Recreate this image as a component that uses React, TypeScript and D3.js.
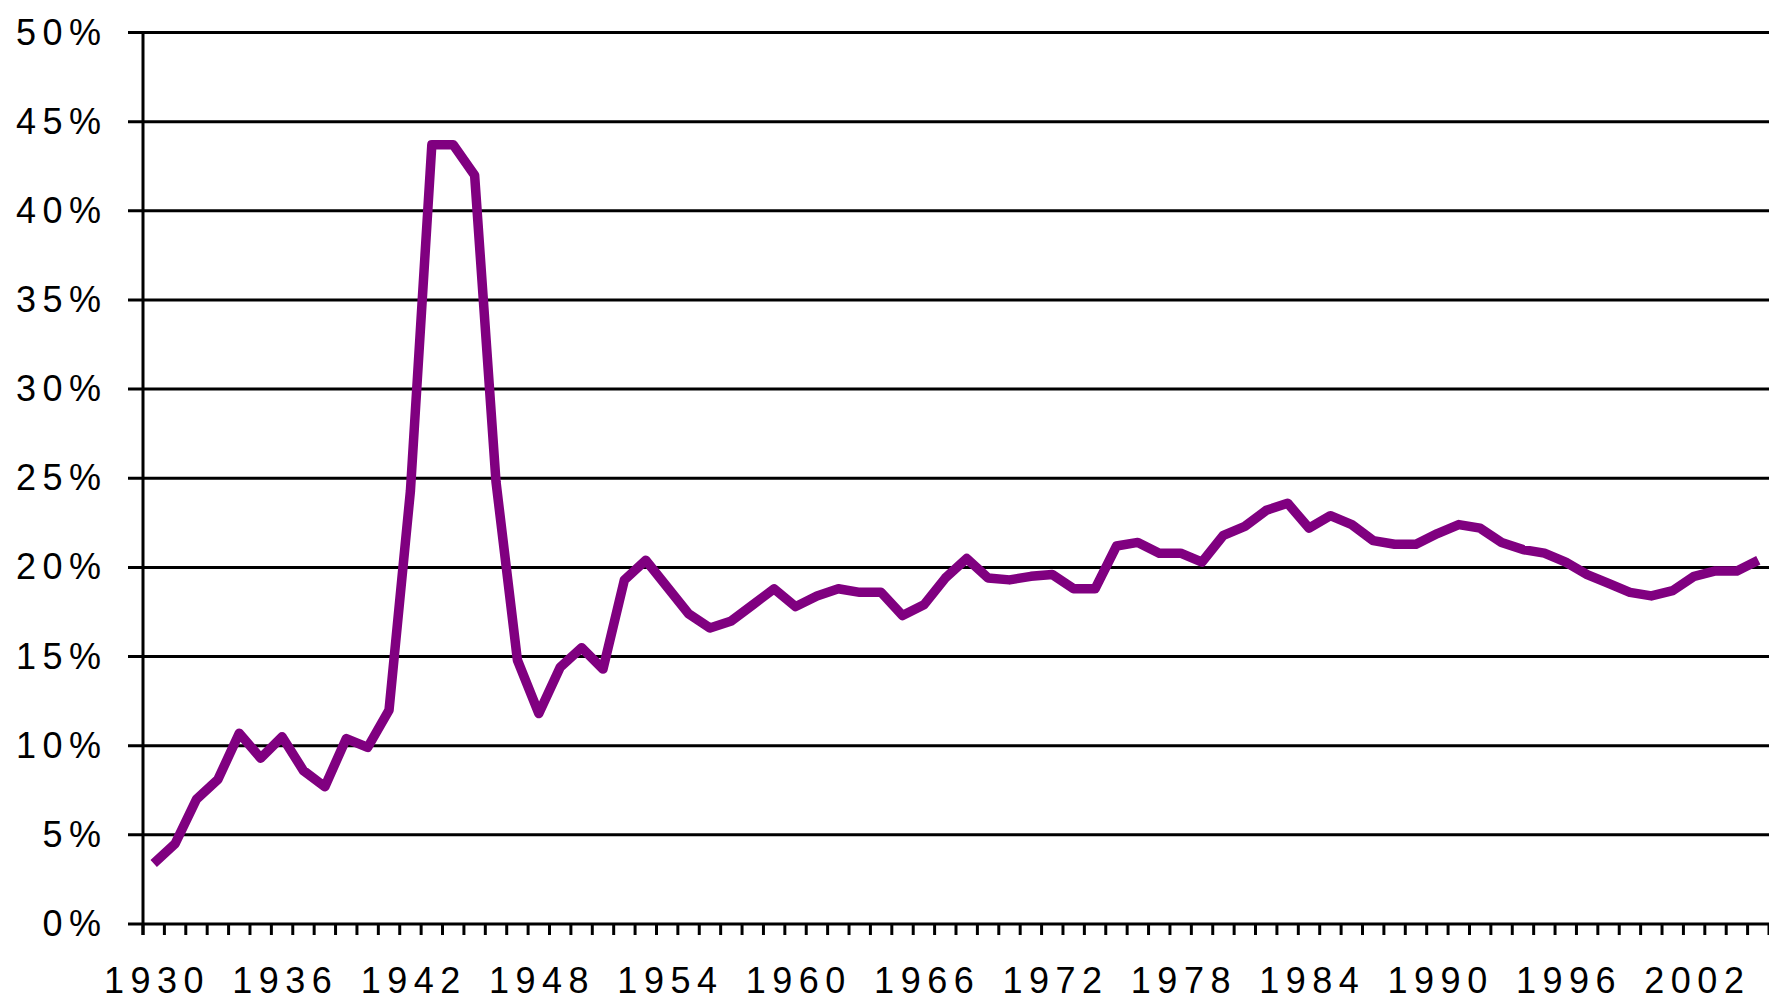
import React from "react";
import * as d3 from "d3";

const years: number[] = d3.range(1930, 2006);
const values: number[] = [
  3.4, 4.5, 7.0, 8.1, 10.7, 9.3, 10.5, 8.6, 7.7, 10.4,
  9.9, 12.0, 24.3, 43.7, 43.7, 42.0, 24.8, 14.8, 11.8, 14.4,
  15.5, 14.3, 19.3, 20.4, 18.9, 17.4, 16.6, 17.0, 17.9, 18.8,
  17.8, 18.4, 18.8, 18.6, 18.6, 17.3, 17.9, 19.4, 20.5, 19.4,
  19.3, 19.5, 19.6, 18.8, 18.8, 21.2, 21.4, 20.8, 20.8, 20.3,
  21.8, 22.3, 23.2, 23.6, 22.2, 22.9, 22.4, 21.5, 21.3, 21.3,
  21.9, 22.4, 22.2, 21.4, 21.0, 20.8, 20.3, 19.6, 19.1, 18.6,
  18.4, 18.7, 19.5, 19.8, 19.8, 20.4,
];
const yTicks: number[] = [0, 5, 10, 15, 20, 25, 30, 35, 40, 45, 50];
const xLabelYears: number[] = [1930, 1936, 1942, 1948, 1954, 1960, 1966, 1972, 1978, 1984, 1990, 1996, 2002];

const W = 1769;
const H = 1000;
const LEFT = 143;
const TOP = 32.5;
const BOTTOM = 924;
const FONT = "'Liberation Sans', Arial, sans-serif";
const FS = 36;
const LS = 6.5;

export default function App() {
  const x = d3.scaleBand<number>().domain(years).range([LEFT, W]).padding(0);
  const y = d3.scaleLinear().domain([0, 50]).range([BOTTOM, TOP]);
  const data = years.map((yr, i) => ({ yr, v: values[i] }));
  const line = d3
    .line<{ yr: number; v: number }>()
    .x((d) => (x(d.yr) as number) + x.bandwidth() / 2)
    .y((d) => y(d.v));

  const boundaries = d3.range(0, years.length + 1).map((i) => LEFT + i * x.bandwidth());

  return (
    <svg
      width={W}
      height={H}
      style={{ position: "absolute", left: 0, top: 0, background: "#fff" }}
    >
      <rect x={0} y={0} width={W} height={H} fill="#fff" />
      {yTicks.map((t) => (
        <line key={"g" + t} x1={128} x2={W} y1={y(t)} y2={y(t)} stroke="#000" strokeWidth={3} />
      ))}
      {boundaries.map((bx, i) => (
        <line key={"t" + i} x1={bx} x2={bx} y1={BOTTOM} y2={BOTTOM + 11} stroke="#000" strokeWidth={3} />
      ))}
      <line x1={LEFT} x2={LEFT} y1={TOP - 1.5} y2={BOTTOM + 11} stroke="#000" strokeWidth={3} />
      {yTicks.map((t) => (
        <text
          key={"yl" + t}
          x={101 + LS}
          y={y(t) + 12}
          textAnchor="end"
          fontFamily={FONT}
          fontSize={FS}
          letterSpacing={LS}
          fill="#000"
        >
          {t + "%"}
        </text>
      ))}
      {xLabelYears.map((yr) => (
        <text
          key={"xl" + yr}
          x={(x(yr) as number) + x.bandwidth() / 2 + LS / 2}
          y={993}
          textAnchor="middle"
          fontFamily={FONT}
          fontSize={FS}
          letterSpacing={LS}
          fill="#000"
        >
          {yr}
        </text>
      ))}
      <path
        d={line(data) || ""}
        fill="none"
        stroke="#800080"
        strokeWidth={9.5}
        strokeLinejoin="round"
        strokeLinecap="butt"
      />
    </svg>
  );
}
